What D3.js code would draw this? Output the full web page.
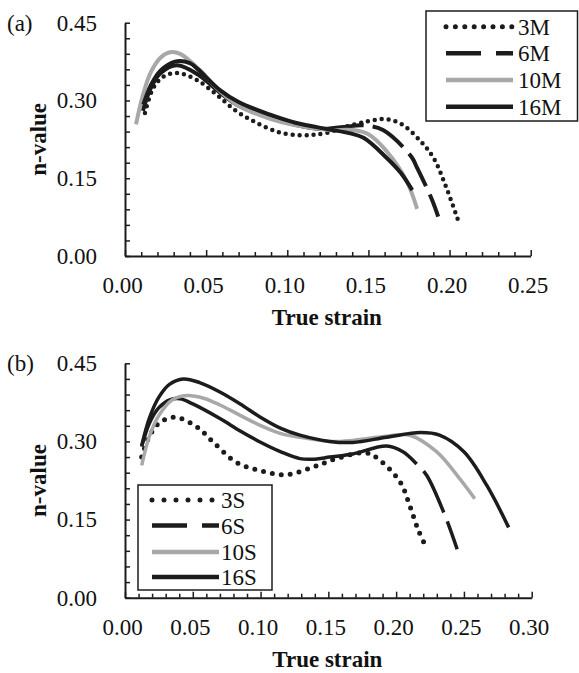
<!DOCTYPE html>
<html>
<head>
<meta charset="utf-8">
<script src="https://cdn.jsdelivr.net/npm/d3@7"></script>
<style>
  body { margin: 0; background: #fff; }
  text { font-family: "Liberation Serif", "Times New Roman", serif; fill: #111; }
</style>
</head>
<body>
<script>
// ---- data: [true strain, n-value] ----
var s3M = [[0.0123,0.276],[0.0174,0.324],[0.0236,0.346],[0.0318,0.353],[0.044,0.340],[0.0565,0.311],[0.0688,0.279],[0.0811,0.257],[0.0955,0.238],[0.108,0.233],[0.116,0.234],[0.125,0.238],[0.137,0.250],[0.150,0.260],[0.160,0.264],[0.170,0.255],[0.182,0.222],[0.190,0.190],[0.198,0.132],[0.206,0.062]];
var s6M = [[0.011,0.280],[0.016,0.325],[0.022,0.353],[0.032,0.368],[0.045,0.350],[0.0585,0.315],[0.070,0.290],[0.089,0.268],[0.105,0.253],[0.120,0.245],[0.135,0.249],[0.147,0.252],[0.159,0.243],[0.1766,0.191],[0.1797,0.172],[0.189,0.110],[0.193,0.076]];
var s10M = [[0.0068,0.254],[0.011,0.310],[0.016,0.355],[0.022,0.383],[0.0277,0.393],[0.034,0.390],[0.045,0.362],[0.0585,0.318],[0.070,0.290],[0.089,0.265],[0.105,0.252],[0.126,0.243],[0.140,0.243],[0.150,0.235],[0.161,0.203],[0.1735,0.145],[0.180,0.091]];
var s16M = [[0.0113,0.292],[0.016,0.330],[0.022,0.358],[0.0308,0.375],[0.040,0.372],[0.045,0.360],[0.0585,0.320],[0.070,0.297],[0.089,0.273],[0.105,0.257],[0.126,0.244],[0.138,0.237],[0.147,0.228],[0.161,0.190],[0.170,0.160],[0.177,0.127]];

var s3S = [[0.0123,0.270],[0.018,0.310],[0.025,0.335],[0.033,0.345],[0.039,0.346],[0.053,0.328],[0.065,0.299],[0.082,0.260],[0.0996,0.244],[0.119,0.236],[0.139,0.251],[0.156,0.267],[0.178,0.278],[0.188,0.264],[0.203,0.222],[0.210,0.177],[0.216,0.132],[0.221,0.103]];
var s6S = [[0.0123,0.290],[0.018,0.335],[0.025,0.365],[0.033,0.380],[0.0406,0.382],[0.050,0.372],[0.070,0.344],[0.085,0.320],[0.0996,0.299],[0.115,0.280],[0.129,0.267],[0.140,0.266],[0.151,0.270],[0.168,0.276],[0.193,0.291],[0.205,0.280],[0.215,0.257],[0.2225,0.235],[0.236,0.158],[0.245,0.093]];
var s10S = [[0.0123,0.254],[0.018,0.310],[0.025,0.350],[0.035,0.380],[0.0455,0.388],[0.058,0.383],[0.070,0.370],[0.085,0.350],[0.0996,0.331],[0.115,0.315],[0.129,0.308],[0.151,0.300],[0.168,0.302],[0.193,0.310],[0.210,0.312],[0.230,0.280],[0.247,0.228],[0.258,0.190]];
var s16S = [[0.0123,0.292],[0.018,0.345],[0.025,0.385],[0.033,0.410],[0.043,0.420],[0.055,0.413],[0.070,0.395],[0.085,0.372],[0.0996,0.347],[0.115,0.325],[0.129,0.312],[0.151,0.300],[0.168,0.298],[0.193,0.308],[0.218,0.317],[0.232,0.312],[0.250,0.280],[0.267,0.215],[0.283,0.135]];

var namesA = ["3M", "6M", "10M", "16M"];
var namesB = ["3S", "6S", "10S", "16S"];
var yLabels = [0, 0.15, 0.30, 0.45];
var xLabelsA = [0, 0.05, 0.10, 0.15, 0.20, 0.25];
var xLabelsB = [0, 0.05, 0.10, 0.15, 0.20, 0.25, 0.30];

var black = "#1c1c1c", grey = "#a8a8a8";

var svg = d3.select("body").append("svg")
  .attr("width", 579).attr("height", 673);

function near(v, arr) {
  return arr.some(function(a){ return Math.abs(a - v) < 1e-6; });
}

function panel(opt) {
  var x = d3.scaleLinear().domain([0, opt.xmax]).range([opt.left, opt.right]);
  var y = d3.scaleLinear().domain([0, 0.45]).range([opt.bottom, opt.top]);

  // y axis, ticks inside
  var yTicks = d3.range(0, 0.4501, 0.03);
  var ya = svg.append("g")
    .attr("transform", "translate(" + opt.left + ",0)")
    .call(d3.axisLeft(y).tickValues(yTicks).tickSizeInner(-5).tickSizeOuter(0).tickPadding(28)
      .tickFormat(function(d){ return near(d, yLabels) ? d3.format(".2f")(d) : ""; }));
  ya.select(".domain").attr("stroke", black).attr("stroke-width", 2);
  ya.selectAll(".tick line").attr("stroke", black).attr("stroke-width", 1.5);
  ya.selectAll("text").attr("font-size", 23).attr("font-family", "Liberation Serif").attr("fill", "#111");

  // x axis, ticks inside
  var xTicks = d3.range(0, opt.xmax + 0.0001, 0.01);
  var xa = svg.append("g")
    .attr("transform", "translate(0," + opt.bottom + ")")
    .call(d3.axisBottom(x).tickValues(xTicks).tickSizeInner(-4).tickSizeOuter(0).tickPadding(21)
      .tickFormat(function(d){ return near(d, opt.xLabels) ? d3.format(".2f")(d) : ""; }));
  xa.select(".domain").attr("stroke", black).attr("stroke-width", 2);
  xa.selectAll(".tick line").attr("stroke", black).attr("stroke-width", 1.5)
    .attr("y2", function(d){ return near(d, opt.xLabels) ? -6 : -4; });
  xa.selectAll("text").attr("font-size", 23).attr("font-family", "Liberation Serif")
    .attr("fill", "#111").attr("dx", -3);

  // titles
  svg.append("text")
    .attr("transform", "translate(46," + ((opt.top + opt.bottom) / 2) + ") rotate(-90)")
    .attr("text-anchor", "middle").attr("font-weight", "bold").attr("font-size", 23)
    .text("n-value");
  svg.append("text")
    .attr("x", (opt.left + opt.right) / 2 - 1).attr("y", opt.bottom + 69)
    .attr("text-anchor", "middle").attr("font-weight", "bold").attr("font-size", 23)
    .text("True strain");
  svg.append("text")
    .attr("x", 7).attr("y", opt.top + 8)
    .attr("font-size", 23).text(opt.tag);

  var line = d3.line()
    .x(function(d){ return x(d[0]); })
    .y(function(d){ return y(d[1]); })
    .curve(d3.curveCatmullRom.alpha(0.5));

  // dashed series: solid until dashFrom, then dashes
  function dashFor(s) {
    var sub = s.series.filter(function(d){ return d[0] <= s.dashFrom; });
    var tmp = svg.append("path").attr("d", line(sub));
    var L = tmp.node().getTotalLength();
    tmp.remove();
    return [L, s.gap, s.dash, s.gap, s.dash, s.gap, s.dash].join(" ");
  }

  opt.series.forEach(function(s){
    var p = svg.append("path")
      .attr("d", line(s.series))
      .attr("fill", "none")
      .attr("stroke", s.color)
      .attr("stroke-width", s.width);
    if (s.kind === "dot") {
      p.attr("stroke-dasharray", "0 " + s.spacing).attr("stroke-linecap", "round");
    } else if (s.kind === "dash") {
      p.attr("stroke-dasharray", dashFor(s));
    }
  });

  // legend
  var lg = opt.legend;
  svg.append("rect")
    .attr("x", lg.x0).attr("y", lg.y0)
    .attr("width", lg.x1 - lg.x0).attr("height", lg.y1 - lg.y0)
    .attr("fill", "#fff").attr("stroke", black).attr("stroke-width", 1.5);
  opt.series.forEach(function(s, i){
    var cy = lg.rows[i];
    var l = svg.append("line")
      .attr("x1", lg.lx0).attr("x2", lg.lx1)
      .attr("y1", cy).attr("y2", cy)
      .attr("stroke", s.color).attr("stroke-width", 4.5);
    if (s.kind === "dot") {
      l.attr("stroke-dasharray", "0 " + lg.dotGap).attr("stroke-linecap", "round").attr("stroke-width", 5);
    } else if (s.kind === "dash") {
      l.attr("stroke-dasharray", "35 15");
    }
    svg.append("text")
      .attr("x", lg.tx).attr("y", cy + 8)
      .attr("font-size", 23).text(opt.names[i]);
  });
}

panel({
  tag: "(a)", xmax: 0.25, left: 125, right: 530.7, top: 22.7, bottom: 256,
  xLabels: xLabelsA, names: namesA,
  series: [
    { series: s3M, kind: "dot", spacing: 7, color: black, width: 4.5 },
    { series: s6M, kind: "dash", dashFrom: 0.154, gap: 9, dash: 37, color: black, width: 4 },
    { series: s10M, kind: "solid", color: grey, width: 4 },
    { series: s16M, kind: "solid", color: black, width: 4 }
  ],
  legend: { x0: 426, x1: 577.5, y0: 11, y1: 121, rows: [26.7, 53.3, 80, 106.7],
            lx0: 446, lx1: 513, tx: 518, dotGap: 9.4 }
});

panel({
  tag: "(b)", xmax: 0.30, left: 125, right: 531.7, top: 363.3, bottom: 597.7,
  xLabels: xLabelsB, names: namesB,
  series: [
    { series: s3S, kind: "dot", spacing: 9, color: black, width: 5 },
    { series: s6S, kind: "dash", dashFrom: 0.215, gap: 10, dash: 46, color: black, width: 3.5 },
    { series: s10S, kind: "solid", color: grey, width: 3.5 },
    { series: s16S, kind: "solid", color: black, width: 3.5 }
  ],
  legend: { x0: 138, x1: 272, y0: 485, y1: 590, rows: [500, 525.5, 552, 577],
            lx0: 152, lx1: 219, tx: 221, dotGap: 12 }
});
</script>
</body>
</html>
